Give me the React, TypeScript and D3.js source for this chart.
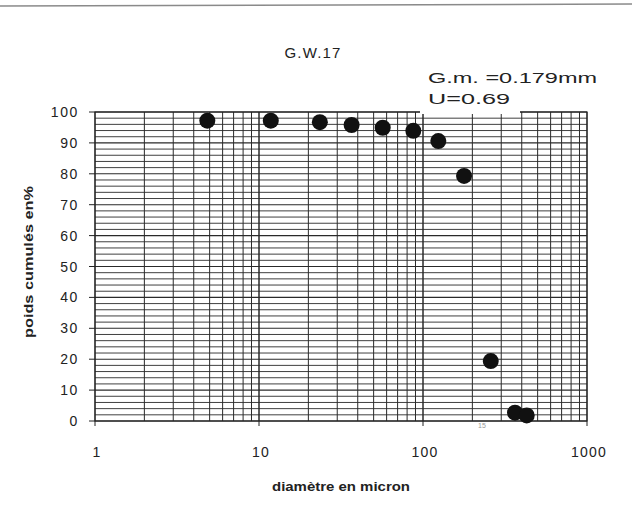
import React from "react";
import * as d3 from "d3";

const diameters = [4.84, 11.8, 23.5, 36.7, 56.8, 87.3, 124, 178, 259, 364, 429];
const cumulative = [97.2, 97.2, 96.7, 95.8, 94.9, 93.9, 90.6, 79.3, 19.4, 2.7, 1.8];
const xTickValues = [1, 10, 100, 1000];
const yTickValues = [0, 10, 20, 30, 40, 50, 60, 70, 80, 90, 100];
const title = "G.W.17";
const noteLines = ["G.m. =0.179mm", "U=0.69"];
const xLabel = "diamètre en micron";
const yLabel = "poids cumulés en%";

const W = 632;
const H = 521;
const FONT = "Arial, 'Liberation Sans', Helvetica, sans-serif";

export default function App() {
  const x = d3.scaleLog().domain([1, 1000]).range([95, 587]);
  const y = d3.scaleLinear().domain([0, 100]).range([421, 112]);

  const minorX: number[] = [];
  for (const dec of [1, 10, 100]) {
    for (let k = 1; k <= 10; k++) minorX.push(dec * k);
  }
  const gridY = d3.range(0, 101, 2);
  const gridColor = "#2a2a2a";
  const noteWidths = [169, 82];

  return (
    <svg
      width={W}
      height={H}
      style={{ position: "absolute", left: 0, top: 0, background: "#fff" }}
      fontFamily={FONT}
    >
      <rect x={0} y={0} width={W} height={H} fill="#fff" />
      {/* scanned page edge */}
      <line x1={0} y1={6} x2={W} y2={4} stroke="#8a8a8a" strokeWidth={1.5} />

      {/* horizontal grid */}
      {gridY.map((v) => (
        <line
          key={"h" + v}
          x1={x(1)}
          x2={x(1000)}
          y1={y(v)}
          y2={y(v)}
          stroke={gridColor}
          strokeWidth={v % 10 === 0 ? 1.1 : 0.9}
        />
      ))}
      {/* vertical grid */}
      {minorX.map((v, i) => (
        <line
          key={"v" + i}
          x1={x(v)}
          x2={x(v)}
          y1={y(100)}
          y2={y(0)}
          stroke={gridColor}
          strokeWidth={1}
        />
      ))}
      {/* border */}
      <rect
        x={x(1)}
        y={y(100)}
        width={x(1000) - x(1)}
        height={y(0) - y(100)}
        fill="none"
        stroke="#222"
        strokeWidth={1.2}
      />

      {/* y ticks */}
      {yTickValues.map((v) => (
        <g key={"yt" + v}>
          <line x1={x(1) - 6} x2={x(1)} y1={y(v)} y2={y(v)} stroke="#222" strokeWidth={1} />
          <text
            x={79}
            y={y(v)}
            dy="0.36em"
            textAnchor="end"
            fontSize={14}
            letterSpacing={1.6}
            fill="#222"
          >
            {v}
          </text>
        </g>
      ))}
      {/* x ticks */}
      {xTickValues.map((v) => (
        <g key={"xt" + v}>
          <line x1={x(v)} x2={x(v)} y1={y(0)} y2={y(0) + 5} stroke="#222" strokeWidth={1} />
          <text
            x={x(v) + 2}
            y={457}
            textAnchor="middle"
            fontSize={14}
            letterSpacing={1.2}
            fill="#222"
          >
            {v}
          </text>
        </g>
      ))}

      {/* white box behind notes */}
      <rect x={420} y={60} width={100} height={54} fill="#fff" />
      <text x={313} y={58} textAnchor="middle" fontSize={15} letterSpacing={1.2} fill="#222">
        {title}
      </text>
      {noteLines.map((t, i) => (
        <text
          key={t}
          x={428}
          y={83 + i * 21}
          fontSize={15}
          textLength={noteWidths[i]}
          lengthAdjust="spacingAndGlyphs"
          fill="#222"
        >
          {t}
        </text>
      ))}

      {/* points */}
      {diameters.map((d, i) => (
        <circle key={"p" + i} cx={x(d)} cy={y(cumulative[i])} r={8} fill="#111" />
      ))}

      <text x={478} y={428} fontSize={7} fill="#999">
        15
      </text>

      {/* axis titles */}
      <text
        x={272}
        y={491}
        fontSize={12.5}
        fontWeight="bold"
        textLength={138}
        lengthAdjust="spacingAndGlyphs"
        fill="#222"
      >
        {xLabel}
      </text>
      <text
        transform={`translate(33,338) rotate(-90)`}
        fontSize={12}
        fontWeight="bold"
        textLength={152}
        lengthAdjust="spacingAndGlyphs"
        fill="#222"
      >
        {yLabel}
      </text>
    </svg>
  );
}
